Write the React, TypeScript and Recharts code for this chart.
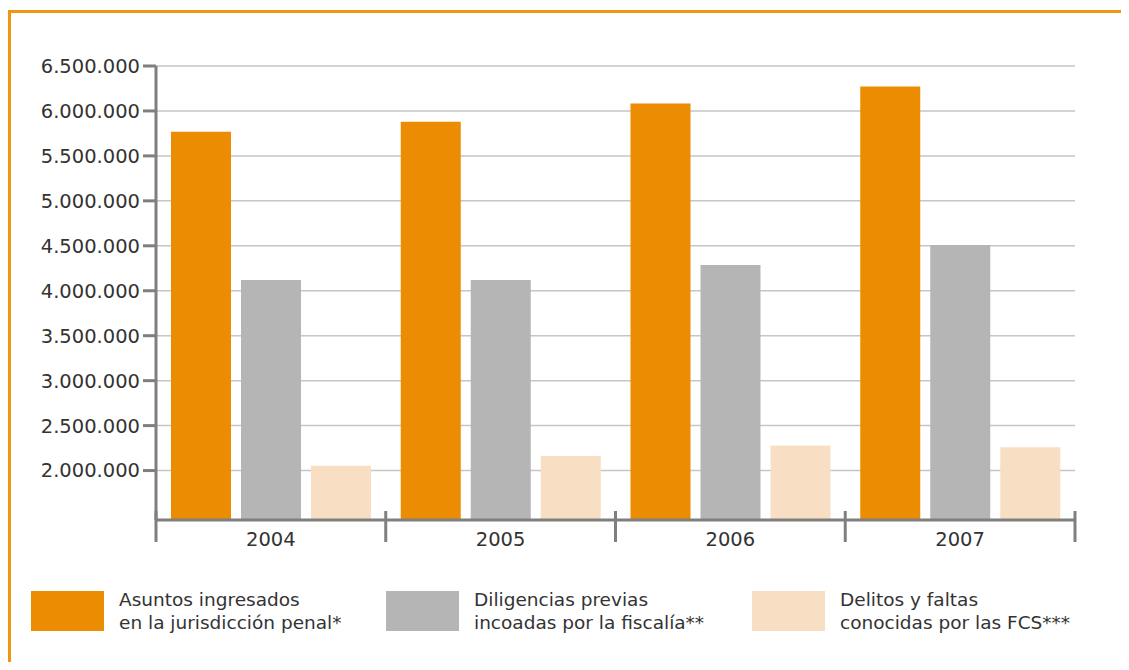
import React from "react";
import { BarChart, Bar, XAxis, YAxis, CartesianGrid } from "recharts";

const years = ["2004", "2005", "2006", "2007"];
const asuntosIngresados = [5768000, 5880000, 6082000, 6272000];
const diligenciasPrevias = [4120000, 4120000, 4287000, 4510000];
const delitosFaltas = [2054000, 2163000, 2280000, 2260000];
const yTicks = [2000000, 2500000, 3000000, 3500000, 4000000, 4500000, 5000000, 5500000, 6000000, 6500000];

const legendItems = [
  { key: "asuntos", color: "#ec8c02", lines: ["Asuntos ingresados", "en la jurisdicción penal*"] },
  { key: "diligencias", color: "#b5b5b5", lines: ["Diligencias previas", "incoadas por la fiscalía**"] },
  { key: "delitos", color: "#f8dfc3", lines: ["Delitos y faltas", "conocidas por las FCS***"] },
];

const data = years.map((year, i) => ({
  year,
  asuntos: asuntosIngresados[i],
  diligencias: diligenciasPrevias[i],
  delitos: delitosFaltas[i],
}));

const AXIS = "#7f7f7f";
const TEXT = "#333333";
const FONT = "'DejaVu Sans', sans-serif";

const fmt = (v: number) => String(v).replace(/\B(?=(\d{3})+(?!\d))/g, ".");

function YearTick({ x, y, payload }: any) {
  const half = payload?.offset || 115;
  const last = payload?.value === years[years.length - 1];
  return (
    <g>
      <line x1={x - half} x2={x - half} y1={y - 9} y2={y + 22} stroke={AXIS} strokeWidth={3} />
      {last && <line x1={x + half} x2={x + half} y1={y - 9} y2={y + 22} stroke={AXIS} strokeWidth={3} />}
      <text x={x} y={y + 26} textAnchor="middle" fill={TEXT} fontSize={19.5} fontFamily={FONT}>
        {payload.value}
      </text>
    </g>
  );
}

export default function App() {
  return (
    <div style={{ position: "relative", width: 1129, height: 670, margin: -8, background: "#fff", overflow: "hidden" }}>
      <div
        style={{
          position: "absolute",
          left: 8,
          top: 10,
          width: 1121,
          height: 660,
          borderTop: "3px solid #f0950f",
          borderLeft: "3px solid #f0950f",
          boxSizing: "border-box",
        }}
      />
      <div style={{ position: "absolute", left: 0, top: 0 }}>
        <BarChart
          width={1129}
          height={570}
          data={data}
          margin={{ top: 66, right: 54, bottom: 10, left: 0 }}
          barSize={60}
          barGap={10}
        >
          <CartesianGrid horizontal vertical={false} stroke="#c6c6c6" strokeWidth={1.5} />
          <XAxis
            dataKey="year"
            height={40}
            axisLine={{ stroke: AXIS, strokeWidth: 3 }}
            tickLine={false}
            tickSize={0}
            tickMargin={0}
            tick={<YearTick />}
            interval={0}
          />
          <YAxis
            width={156}
            domain={[1450000, 6500000]}
            ticks={yTicks}
            interval={0}
            allowDataOverflow
            axisLine={{ stroke: AXIS, strokeWidth: 3 }}
            tickLine={{ stroke: AXIS, strokeWidth: 3 }}
            tickSize={13}
            tickMargin={3}
            tickFormatter={fmt}
            tick={{ fill: TEXT, fontSize: 19.5, fontFamily: FONT }}
          />
          {legendItems.map((s) => (
            <Bar key={s.key} dataKey={s.key} fill={s.color} isAnimationActive={false} />
          ))}
        </BarChart>
      </div>
      {legendItems.map((s, i) => {
        const left = [31, 386, 752][i];
        return (
          <div key={s.key} style={{ position: "absolute", left, top: 591, display: "flex" }}>
            <div style={{ width: 73, height: 40, background: s.color }} />
            <div
              style={{
                marginLeft: 15,
                marginTop: -3,
                fontFamily: FONT,
                fontSize: 18.5,
                lineHeight: "23px",
                color: TEXT,
                whiteSpace: "nowrap",
              }}
            >
              {s.lines.map((l) => (
                <div key={l}>{l}</div>
              ))}
            </div>
          </div>
        );
      })}
    </div>
  );
}
